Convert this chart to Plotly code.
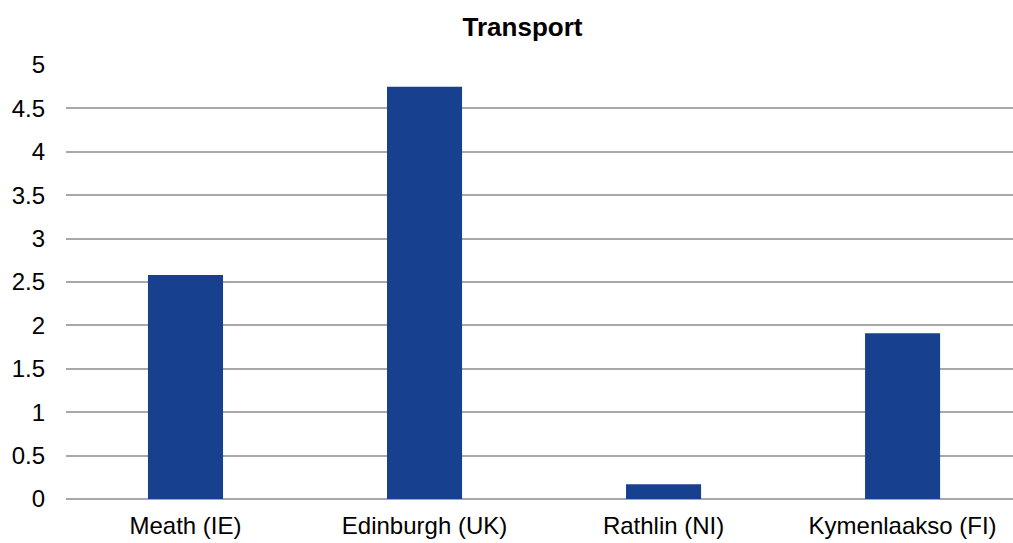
import plotly.graph_objects as go

# Transport scores by region
regions = ["Meath (IE)", "Edinburgh (UK)", "Rathlin (NI)", "Kymenlaakso (FI)"]
scores = [2.58, 4.75, 0.17, 1.91]
y_ticks = [0, 0.5, 1, 1.5, 2, 2.5, 3, 3.5, 4, 4.5, 5]
y_tick_labels = ["0", "0.5", "1", "1.5", "2", "2.5", "3", "3.5", "4", "4.5", "5"]

fig = go.Figure(
    go.Bar(
        x=regions,
        y=scores,
        marker=dict(color="#17408F", line=dict(width=0)),
    )
)

fig.update_layout(
    width=1013,
    height=543,
    margin=dict(l=66, r=0, t=65, b=44),
    paper_bgcolor="white",
    plot_bgcolor="white",
    bargap=0.686,
    showlegend=False,
    font=dict(family="Liberation Sans, Arial, sans-serif", size=24, color="#000000"),
    title=dict(
        text="<b>Transport</b>",
        x=0.5158,
        xanchor="center",
        y=0.95,
        yanchor="middle",
        font=dict(size=26, color="#000000"),
    ),
)

fig.update_xaxes(
    range=[-0.5, 3.462],
    showgrid=False,
    showline=False,
    zeroline=False,
    ticks="",
    ticklabelstandoff=10,
)

fig.update_yaxes(
    range=[0, 5],
    tickvals=y_ticks,
    ticktext=y_tick_labels,
    showgrid=True,
    gridcolor="#A8A8A8",
    gridwidth=2,
    zeroline=True,
    zerolinecolor="#A8A8A8",
    zerolinewidth=2,
    showline=False,
    ticks="",
    ticklabelstandoff=20,
)

fig.write_html("out.html")
